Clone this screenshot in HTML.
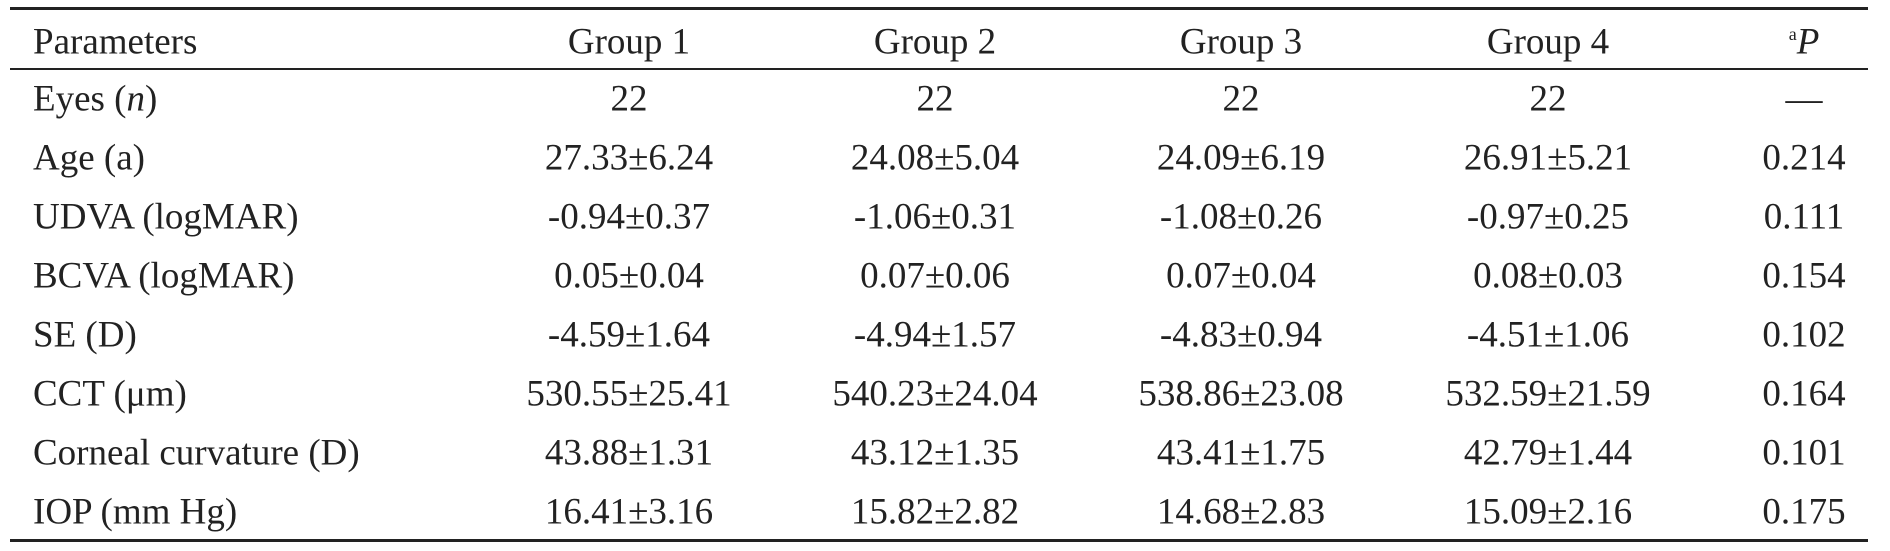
<!DOCTYPE html>
<html><head><meta charset="utf-8"><style>
body{margin:0;width:1890px;height:551px;background:#fff;position:relative;overflow:hidden;font-family:"Liberation Serif",serif;color:#222;font-size:37px}
.l{position:absolute;left:10px;width:1858px;background:#222}
.t{position:absolute;white-space:nowrap;transform:translate(-50%,-50%);line-height:1}
.p{position:absolute;white-space:nowrap;transform:translateY(-50%);left:33px;line-height:1}
</style></head><body>
<div class="l" style="top:7px;height:3px"></div>
<div class="l" style="top:68px;height:2px"></div>
<div class="l" style="top:539px;height:3px"></div>
<div id="c"></div>
<script>
const rowLabels=["Parameters","Eyes (<i>n</i>)","Age (a)","UDVA (logMAR)","BCVA (logMAR)","SE (D)","CCT (μm)","Corneal curvature (D)","IOP (mm Hg)"];
const cells=[
["Group 1","Group 2","Group 3","Group 4","<sup style='font-size:18px'>a</sup><i>P</i>"],
["22","22","22","22","—"],
["27.33±6.24","24.08±5.04","24.09±6.19","26.91±5.21","0.214"],
["-0.94±0.37","-1.06±0.31","-1.08±0.26","-0.97±0.25","0.111"],
["0.05±0.04","0.07±0.06","0.07±0.04","0.08±0.03","0.154"],
["-4.59±1.64","-4.94±1.57","-4.83±0.94","-4.51±1.06","0.102"],
["530.55±25.41","540.23±24.04","538.86±23.08","532.59±21.59","0.164"],
["43.88±1.31","43.12±1.35","43.41±1.75","42.79±1.44","0.101"],
["16.41±3.16","15.82±2.82","14.68±2.83","15.09±2.16","0.175"]];
const colX=[629,935,1241,1548,1804];
const rowY=[42,99,158,217,276,335,394,453,512];
const c=document.getElementById('c');
rowLabels.forEach((lab,r)=>{
 const d=document.createElement('div');d.className='p';d.style.top=rowY[r]+'px';d.innerHTML=lab;
 
 
 c.appendChild(d);
 cells[r].forEach((v,i)=>{
  const e=document.createElement('div');e.className='t';e.style.left=colX[i]+'px';e.style.top=rowY[r]+'px';e.innerHTML=v;
  
  
  c.appendChild(e);
 });
});
</script>
</body></html>
